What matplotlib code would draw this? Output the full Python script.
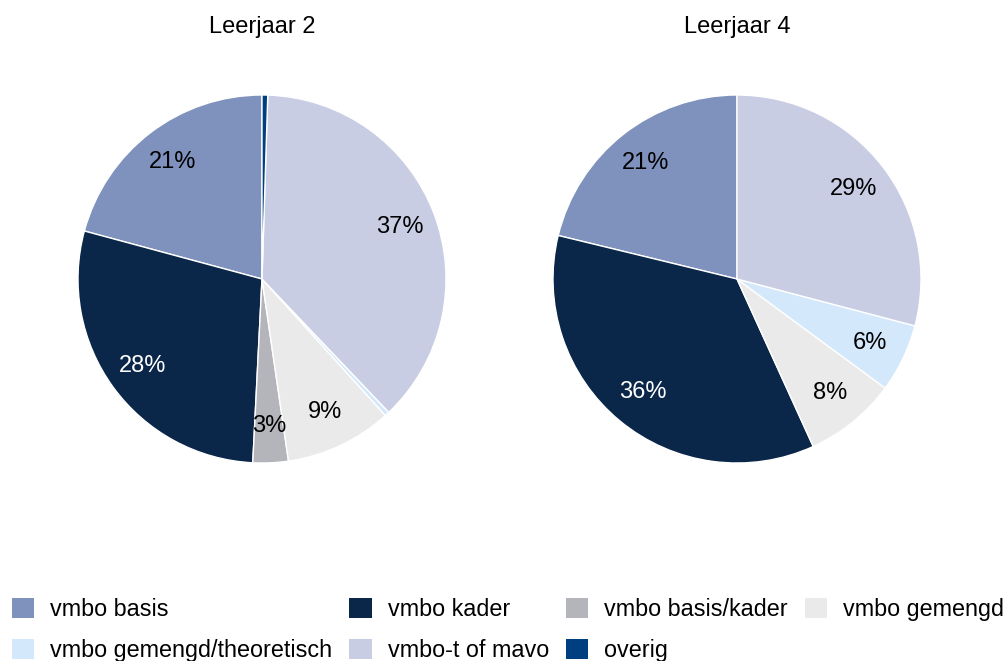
import numpy as np
import matplotlib.pyplot as plt
from matplotlib.patches import Patch

plt.rcParams['font.family'] = ['Liberation Sans', 'DejaVu Sans']

categories = ['vmbo basis', 'vmbo kader', 'vmbo basis/kader', 'vmbo gemengd',
              'vmbo gemengd/theoretisch', 'vmbo-t of mavo', 'overig']
colors = ['#7F92BD', '#0A2648', '#B4B4BB', '#EAEAEA', '#D3E8FB', '#C8CDE4', '#003F7F']
text_colors = ['black', 'white', 'black', 'black', 'black', 'black', 'white']

titles = ['Leerjaar 2', 'Leerjaar 4']
leerjaar2 = [20.8, 28.4, 3.1, 9.4, 0.4, 37.4, 0.5]
leerjaar4 = [21.2, 35.6, 0.0, 8.1, 6.0, 29.1, 0.0]

W, H = 1005, 661
FS = 17.0
FS_LEG = 16.8
fig = plt.figure(figsize=(W / 100, H / 100), dpi=100)


def draw_pie(ax, values):
    vals = np.array(values)
    keep = vals > 0
    v = vals[keep]
    cols = [c for c, k in zip(colors, keep) if k]
    tcols = [c for c, k in zip(text_colors, keep) if k]
    wedges, texts, autotexts = ax.pie(
        v, colors=cols, startangle=90, counterclock=True,
        autopct=lambda p: f'{p:.0f}%' if p >= 2 else '',
        pctdistance=0.8, radius=1.0,
        wedgeprops=dict(edgecolor='white', linewidth=1.0),
        textprops=dict(fontsize=FS))
    for t, c in zip(autotexts, tcols):
        t.set_color(c)
    ax.set_xlim(-1, 1)
    ax.set_ylim(-1, 1)
    ax.set_aspect('equal')
    ax.axis('off')


r = 184
for cx, vals, title in [(262, leerjaar2, titles[0]), (737, leerjaar4, titles[1])]:
    cy = 279
    ax = fig.add_axes([(cx - r) / W, (H - cy - r) / H, 2 * r / W, 2 * r / H])
    draw_pie(ax, vals)
    fig.text(cx / W, 1 - 27 / H, title, ha='center', va='center', fontsize=FS)

# legend, filled row-wise in 4 columns
handles = [Patch(facecolor=c, edgecolor='none') for c in colors]
order = [0, 4, 1, 5, 2, 6, 3]
fig.legend([handles[i] for i in order], [categories[i] for i in order],
           ncol=4, loc='upper left', bbox_to_anchor=(12 / W, 1 - 598 / H),
           frameon=False, fontsize=FS_LEG, handlelength=0.95, handleheight=0.95,
           handletextpad=0.69, columnspacing=0.73, labelspacing=0.75,
           borderaxespad=0.0, borderpad=0.0)

plt.savefig('out.png', dpi=100)
